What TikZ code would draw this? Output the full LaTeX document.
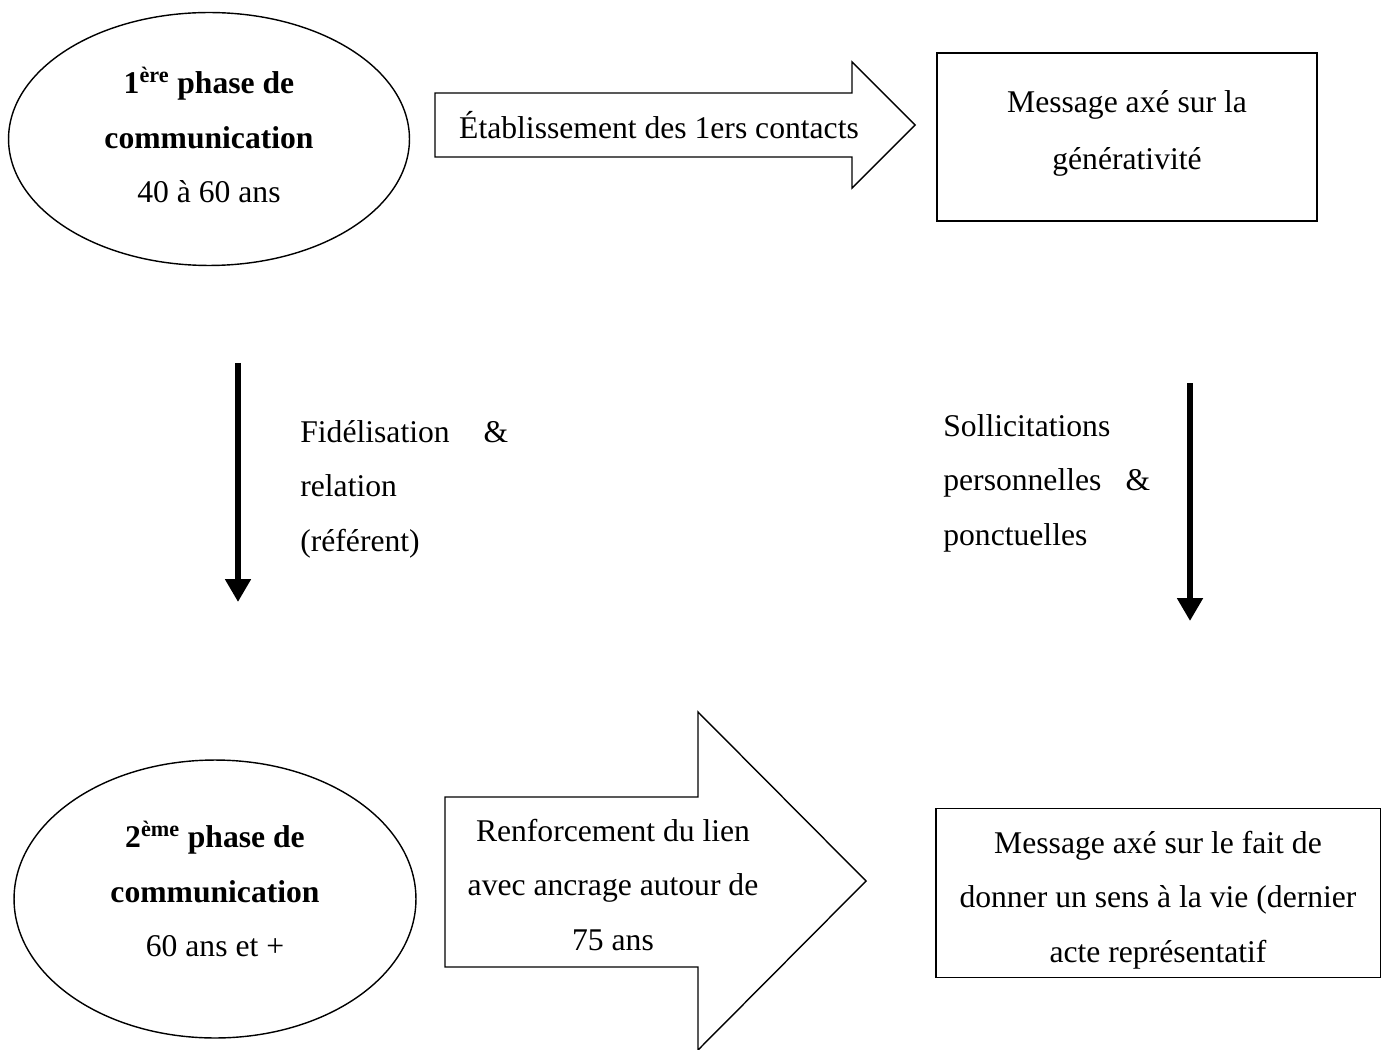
\documentclass[tikz,border=0pt]{standalone}
\usepackage{fontspec}
\setmainfont{Liberation Serif}
\usetikzlibrary{positioning,shapes.geometric,arrows.meta}

\begin{document}
\begin{tikzpicture}[
  x=0.02cm, y=-0.02cm,
  every node/.style={font=\fontsize{18pt}{31pt}\selectfont, inner sep=0pt},
  phase/.style={ellipse, draw, line width=0.8pt},
  msgbox/.style={rectangle, draw, line width=1.1pt},
  bigarrow/.style={draw, line width=0.8pt, line join=miter},
  flow/.style={-{Triangle[width=14pt,length=13pt]}, line width=3.9pt},
  note/.style={align=left, anchor=west}
]
  \useasboundingbox (0,0) rectangle (1391,1050);

  % top row
  \node[phase, minimum width=8.02cm, minimum height=5.06cm] (p1) at (209,139) {};
  \node[align=center] (p1txt) at (209,135)
    {\textbf{1\textsuperscript{ère} phase de}\\\textbf{communication}\\40 à 60 ans};
  \draw[bigarrow] (435,93) -- (852,93) -- (852,62) -- (915,125) -- (852,188) -- (852,157) -- (435,157) -- cycle;
  \node (est) at (659,125) {Établissement des 1ers contacts};
  \node[msgbox, minimum width=7.6cm, minimum height=3.36cm] (m1) at (1127,137) {};
  \node[align=center, font=\fontsize{18pt}{32.5pt}\selectfont] (m1txt) at (1127,133)
    {Message axé sur la\\générativité};

  % descending arrows
  \coordinate (f1) at (238,363);
  \coordinate (f2) at (238,602);
  \draw[flow] (f1) -- (f2);
  \node[note, text width=4.16cm] (fidel) at (300,489)
    {Fidélisation\hfill\&\\relation\\(référent)};
  \coordinate (s1) at (1190,383);
  \coordinate (s2) at (1190,621);
  \draw[flow] (s1) -- (s2);
  \node[note, text width=4.14cm] (solli) at (943,483)
    {Sollicitations\\personnelles\hfill\&\\ponctuelles};

  % bottom row
  \node[phase, minimum width=8.04cm, minimum height=5.56cm] (p2) at (215,899) {};
  \node[align=center] (p2txt) at (215,889)
    {\textbf{2\textsuperscript{ème} phase de}\\\textbf{communication}\\60 ans et +};
  \draw[bigarrow] (445,797) -- (698,797) -- (698,712) -- (866,881) -- (698,1050) -- (698,967) -- (445,967) -- cycle;
  \node[align=center] (renf) at (613,885)
    {Renforcement du lien\\avec ancrage autour de\\75 ans};
  \node[msgbox, minimum width=8.9cm, minimum height=3.38cm] (m2) at (1158,893) {};
  \node[align=center] (m2txt) at (1158,900)
    {Message axé sur le fait de\\donner un sens à la vie (dernier\\acte représentatif};
\end{tikzpicture}
\end{document}
